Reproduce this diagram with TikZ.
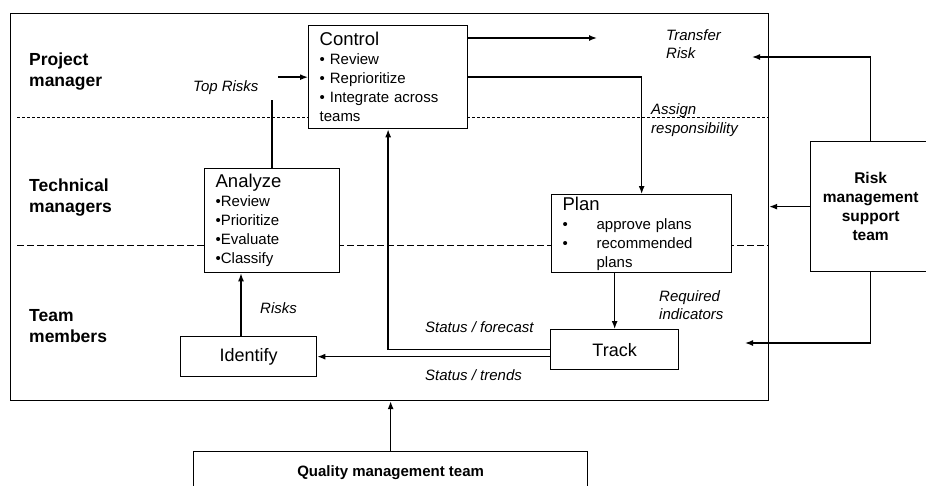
\documentclass[tikz,border=0pt]{standalone}
\usepackage{fontspec}
\setmainfont{Liberation Sans}
\usetikzlibrary{arrows.meta}
\newcommand{\boxtitle}{\fontsize{18.5}{19}\selectfont}
\newcommand{\planbul}{\makebox[34pt][l]{\textbullet}}

\begin{document}
\begin{tikzpicture}[x=1pt,y=-1pt,
	box/.style={draw, fill=white, line width=1.3pt, anchor=north west, inner xsep=11pt, inner ysep=0pt, align=left, font=\fontsize{15}{19}\selectfont},
	sbox/.style={draw, fill=white, line width=1.3pt, anchor=north west, inner sep=0pt, font=\fontsize{18}{20}\selectfont},
	bbox/.style={draw, fill=white, line width=1.3pt, anchor=north west, inner sep=0pt, align=center, font=\fontsize{15.5}{19}\selectfont\bfseries},
	lane/.style={anchor=west, align=left, inner sep=0pt, font=\fontsize{17.5}{21}\selectfont\bfseries},
	lbl/.style={anchor=west, align=left, inner sep=0pt, font=\fontsize{15}{18.5}\selectfont\itshape},
	arr/.style={line width=1.4pt, -{Latex[length=8pt,width=6pt]}},
	ln/.style={line width=1.4pt}]
			\useasboundingbox (0,0) rectangle (926,485);
			\draw [line width=1pt, dash pattern=on 3pt off 2pt] (17,117)--(768,117);
			\draw [line width=1pt, dash pattern=on 7pt off 3pt] (17,245)--(768,245);
			\node [draw, line width=1.1pt, anchor=north west, minimum width=758pt, minimum height=387pt, inner sep=0pt] (frame) at (10,13) {};
			\node [lane] (pm) at (29,72) {Project\\manager};
			\node [lane] (tm) at (29,198) {Technical\\managers};
			\node [lane] (team) at (29,326) {Team\\members};
			\node [box, minimum width=159pt, minimum height=103pt, text width=137pt] (control) at (308,25) {{\boxtitle Control}\\\textbullet\ Review\\\textbullet\ Reprioritize\\\textbullet\ Integrate across\\teams};
			\node [box, minimum width=135pt, minimum height=104pt, text width=113pt] (analyze) at (204,168) {{\boxtitle Analyze}\\\textbullet Review\\\textbullet Prioritize\\\textbullet Evaluate\\\textbullet Classify};
			\node [box, minimum width=180pt, minimum height=78pt, text width=158pt] (plan) at (551,194) {{\boxtitle Plan}\\\planbul approve plans\\\planbul recommended\\\hspace*{34pt}plans};
			\node [sbox, minimum width=136pt, minimum height=40pt] (identify) at (180,336) {Identify};
			\node [sbox, minimum width=128pt, minimum height=40pt] (track) at (550,329) {Track};
			\node [bbox, minimum width=120pt, minimum height=130pt] (risk) at (810,141) {Risk\\management\\support\\team};
			\node [bbox, minimum width=394pt, minimum height=42pt, font=\fontsize{15}{19}\selectfont\bfseries] (quality) at (193,451) {Quality management team};
			\node [lbl] (toprisks) at (193,88) {Top Risks};
			\node [lbl] (transfer) at (666,44) {Transfer\\Risk};
			\node [lbl] (assign) at (651,120) {Assign\\responsibility};
			\node [lbl] (required) at (659,305) {Required\\indicators};
			\node [lbl] (forecast) at (425,327) {Status / forecast};
			\node [lbl] (trends) at (425,375) {Status / trends};
			\node [lbl] (risks) at (260,308) {Risks};
			\coordinate (tr) at (271,100);
			\coordinate (trin) at (278,77);
			\coordinate (xfer) at (597,38);
			\coordinate (rin1) at (752,57);
			\coordinate (rin2) at (745,343);
			\draw [ln] (analyze.north)--(analyze.north |- tr);
			\draw [arr] (control.west -| trin)--(control.west);
			\draw [arr] (control.east |- xfer)--(xfer);
			\draw [arr] (control.east) -| (plan.north);
			\draw [arr] (track.north |- plan.south)--(track.north);
			\draw [arr] (track.west) -| (control.south);
			\draw [arr] (track.west |- identify.east)--(identify.east);
			\draw [arr] ([xshift=61pt]identify.north west)--([xshift=61pt]identify.north west |- analyze.south);
			\draw [arr] (quality.north)--(quality.north |- frame.south);
			\draw [arr] (risk.north) |- (rin1);
			\draw [arr] (risk.west)--(risk.west -| frame.east);
			\draw [arr] (risk.south) |- (rin2);
		\end{tikzpicture}
\end{document}
